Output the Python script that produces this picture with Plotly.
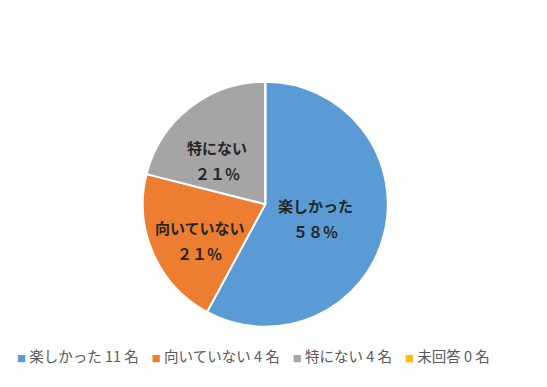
import math
import plotly.graph_objects as go

categories = ["楽しかった", "向いていない", "特にない", "未回答"]
counts = [11, 4, 4, 0]
colors = ["#5B9BD5", "#ED7D31", "#A5A5A5", "#FFC000"]

# label placement style (fraction of radius, angular tweak in degrees)
label_radius = [0.43, 0.61, 0.53, 0.5]
label_angle_shift = [2, -5, -10, 0]

total = sum(counts)
fw = str.maketrans("0123456789%", "０１２３４５６７８９％")
pct_text = [f"{round(c / total * 100)}%".translate(fw) for c in counts]

W, H = 547, 387
OFF = 8  # page body margin
cx, cy, r = 265.3 - OFF, 204.2 - OFF, 122.5
fig = go.Figure(go.Pie(
    labels=categories,
    values=counts,
    textinfo="none",
    sort=False,
    direction="clockwise",
    rotation=0,
    marker=dict(colors=colors, line=dict(color="white", width=2)),
    domain=dict(x=[(cx - r) / W, (cx + r) / W], y=[1 - (cy + r) / H, 1 - (cy - r) / H]),
    hoverinfo="label+percent",
    showlegend=False,
))

lab_font = dict(family="Noto Sans CJK JP", size=15, color="#262626", weight="bold")
cum = 0
for name, c, p, fr, sh in zip(categories, counts, pct_text, label_radius, label_angle_shift):
    if c > 0:
        mid = (cum + c / 2) / total * 2 * math.pi + math.radians(sh)
        px = cx + math.sin(mid) * r * fr
        py = cy - math.cos(mid) * r * fr
        for txt, ys in ((name, 13), (p, -13)):
            fig.add_annotation(x=px / W, y=1 - py / H, xref="paper", yref="paper",
                               text=txt, showarrow=False, font=lab_font, yshift=ys,
                               xanchor="center", yanchor="middle")
    cum += c

# legend row
items = []
for name, c, col in zip(categories, counts, colors):
    items.append(f"<span style='color:{col};font-size:9px'>■</span>&nbsp;{name} {c} 名")
fig.add_annotation(x=(253.5 - OFF) / W, y=1 - (355 - OFF) / H, xref="paper", yref="paper",
                   text="&nbsp;&nbsp;&nbsp;&nbsp;".join(items), showarrow=False,
                   font=dict(family="Noto Sans CJK JP", size=14.5, color="#595959"),
                   xanchor="center", yanchor="middle")

fig.update_layout(
    width=W, height=H,
    margin=dict(l=0, r=0, t=0, b=0),
    paper_bgcolor="white",
    showlegend=False,
)
fig.write_html("out.html")
